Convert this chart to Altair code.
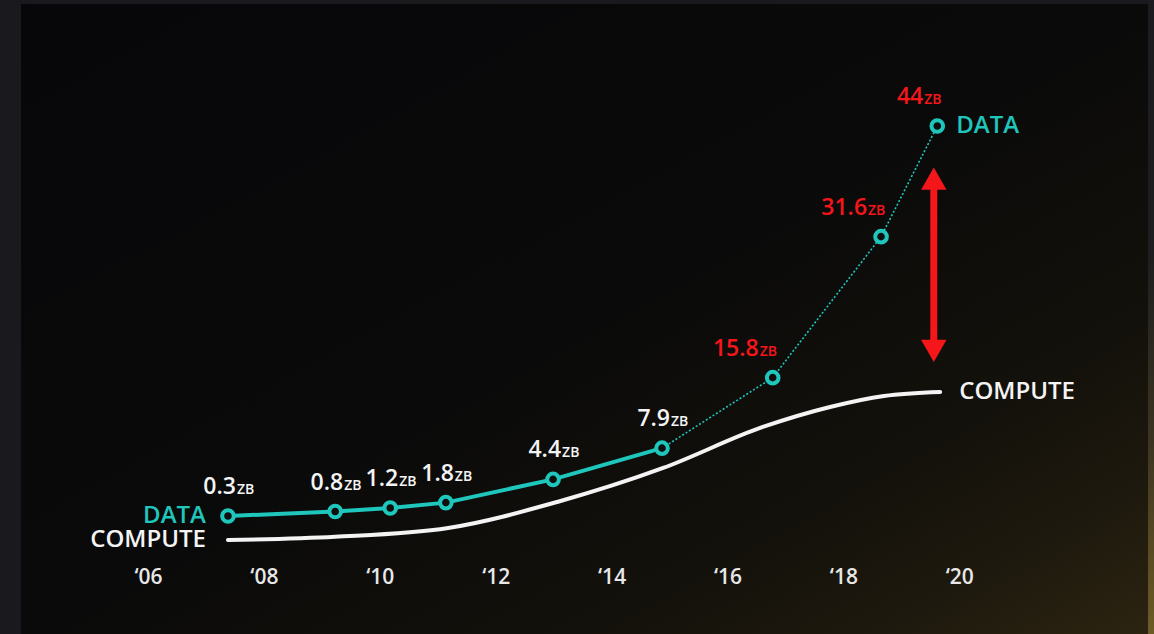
import altair as alt
import pandas as pd

# ---- data ----
data_years = [2007.38, 2009.23, 2010.18, 2011.14, 2012.99, 2014.87, 2016.78, 2018.65, 2019.62]
data_zb = [0.3, 0.8, 1.2, 1.8, 4.4, 7.9, 15.8, 31.6, 44]
data_labels = ["0.3", "0.8", "1.2", "1.8", "4.4", "7.9", "15.8", "31.6", "44"]
data_phase = ["known"] * 6 + ["forecast"] * 3

compute_years = [2007.38, 2009.23, 2011.18, 2013.06, 2014.89, 2016.61, 2017.77, 2018.7, 2019.67]
compute_values = [-2.39, -2.02, -1.04, 1.87, 5.68, 10.28, 12.52, 13.75, 14.2]

axis_years = [2006, 2008, 2010, 2012, 2014, 2016, 2018, 2020]

gap_year = [2019.56]
gap_top = [38.1]
gap_bottom = [18.8]

FONT = "Open Sans"
TEAL = "#1fc6bc"
RED = "#f5161a"
WHITE = "#f4f4f4"

df_data = pd.DataFrame({"year": data_years, "zb": data_zb, "label": data_labels,
                        "phase": data_phase, "unit": ["ZB"] * len(data_zb)})
df_compute = pd.DataFrame({"year": compute_years, "value": compute_values})
df_solid = df_data.iloc[:6]
df_dotted = df_data.iloc[5:]

xs = alt.Scale(domain=[2003.446, 2023.36], nice=False, zero=False)
ys = alt.Scale(domain=[-4.63, 58.12], nice=False, zero=False)

x_ax = alt.Axis(
    values=axis_years,
    labelExpr="'\u2018' + substring(toString(datum.value), 2)",
    domain=False, ticks=False, tickSize=0, grid=False, title=None, zindex=2,
    labelFont=FONT, labelFontSize=21, labelFontWeight=600, labelColor="#e8e8e8",
    labelPadding=23, labelBaseline="alphabetic", labelFlush=False, labelOverlap=False)
x_enc = alt.X("year:Q", scale=xs, axis=x_ax)

one = pd.DataFrame({"k": [0]})

panel_gradient = alt.Gradient(
    gradient="linear", x1=0, y1=0, x2=1, y2=1,
    stops=[alt.GradientStop(color="#07070a", offset=0),
           alt.GradientStop(color="#0a0a0a", offset=0.5),
           alt.GradientStop(color="#13110b", offset=0.75),
           alt.GradientStop(color="#1e190e", offset=0.88),
           alt.GradientStop(color="#2c2411", offset=1)])
edge_gradient = alt.Gradient(
    gradient="linear", x1=0, y1=0, x2=0, y2=1,
    stops=[alt.GradientStop(color="#1c1c20", offset=0),
           alt.GradientStop(color="#1e1e20", offset=0.4),
           alt.GradientStop(color="#3d3522", offset=0.7),
           alt.GradientStop(color="#6e5c26", offset=1)])

panel = alt.Chart(one).mark_rect(color=panel_gradient).encode(
    x=alt.value(21), x2=alt.value(1148), y=alt.value(4), y2=alt.value(634))
edge = alt.Chart(one).mark_rect(color=edge_gradient).encode(
    x=alt.value(1148), x2=alt.value(1154), y=alt.value(0), y2=alt.value(634))

compute_line = alt.Chart(df_compute).mark_line(
    color=WHITE, strokeWidth=4, interpolate="monotone", strokeCap="round").encode(
    x=x_enc, y=alt.Y("value:Q", scale=ys, axis=None))

solid_line = alt.Chart(df_solid).mark_line(color=TEAL, strokeWidth=4).encode(
    x=x_enc, y=alt.Y("zb:Q", scale=ys, axis=None))
dotted_line = alt.Chart(df_dotted).mark_line(
    color=TEAL, strokeWidth=1.6, strokeDash=[2, 2]).encode(
    x=x_enc, y=alt.Y("zb:Q", scale=ys, axis=None))

points = alt.Chart(df_data).mark_point(
    shape="circle", filled=False, fill="#0e0e0e", fillOpacity=1,
    stroke=TEAL, strokeWidth=4, size=135, opacity=1).encode(
    x=x_enc, y=alt.Y("zb:Q", scale=ys, axis=None))


def value_labels(phase, color, dx):
    base = alt.Chart(df_data).transform_filter(alt.datum.phase == phase)
    num = base.mark_text(align="right", baseline="alphabetic", dx=dx, dy=-22,
                         font=FONT, fontSize=23, fontWeight=600, color=color).encode(
        x=x_enc, y=alt.Y("zb:Q", scale=ys, axis=None), text="label:N")
    unit = base.mark_text(align="left", baseline="alphabetic", dx=dx + 1, dy=-22,
                          font=FONT, fontSize=14, fontWeight=600, color=color).encode(
        x=x_enc, y=alt.Y("zb:Q", scale=ys, axis=None), text="unit:N")
    return num + unit


white_labels = value_labels("known", WHITE, 8)
red_labels = value_labels("forecast", RED, -14)

df_ends_left = pd.DataFrame({
    "year": [data_years[0], compute_years[0]],
    "v": [data_zb[0], compute_values[0]],
    "name": ["DATA", "COMPUTE"], "series": ["data", "compute"]})
df_ends_right = pd.DataFrame({
    "year": [data_years[-1], compute_years[-1]],
    "v": [data_zb[-1], compute_values[-1]],
    "name": ["DATA", "COMPUTE"], "series": ["data", "compute"]})
series_color = alt.Color("series:N", scale=alt.Scale(domain=["data", "compute"],
                                                     range=[TEAL, WHITE]), legend=None)

left_names = alt.Chart(df_ends_left).mark_text(
    align="right", baseline="alphabetic", dx=-22, dy=7, font=FONT, fontSize=24,
    fontWeight=600).encode(x=x_enc, y=alt.Y("v:Q", scale=ys, axis=None),
                           text="name:N", color=series_color)
right_names = alt.Chart(df_ends_right).mark_text(
    align="left", baseline="alphabetic", dx=19, dy=7, font=FONT, fontSize=24,
    fontWeight=600).encode(x=x_enc, y=alt.Y("v:Q", scale=ys, axis=None),
                           text="name:N", color=series_color)

df_gap = pd.DataFrame({"year": gap_year, "top": gap_top, "bottom": gap_bottom})
gap_rule = alt.Chart(df_gap).mark_rule(color=RED, strokeWidth=7).encode(
    x=x_enc, y=alt.Y("top:Q", scale=ys, axis=None), y2=alt.Y2("bottom:Q"))
gap_up = alt.Chart(df_gap).mark_point(shape="triangle-up", filled=True, color=RED,
                                      size=650, opacity=1).encode(
    x=x_enc, y=alt.Y("top:Q", scale=ys, axis=None))
gap_down = alt.Chart(df_gap).mark_point(shape="triangle-down", filled=True, color=RED,
                                        size=650, opacity=1).encode(
    x=x_enc, y=alt.Y("bottom:Q", scale=ys, axis=None))

chart = alt.layer(
    panel, edge, compute_line, solid_line, dotted_line, points,
    white_labels, red_labels, left_names, right_names, gap_rule, gap_up, gap_down
).properties(
    width=1154, height=560, autosize="none",
    padding={"left": 0, "right": 0, "top": 0, "bottom": 74},
    background="#1a1a1e"
).configure_view(stroke=None)

chart.save("out.html", embed_options={"renderer": "svg", "actions": False})
